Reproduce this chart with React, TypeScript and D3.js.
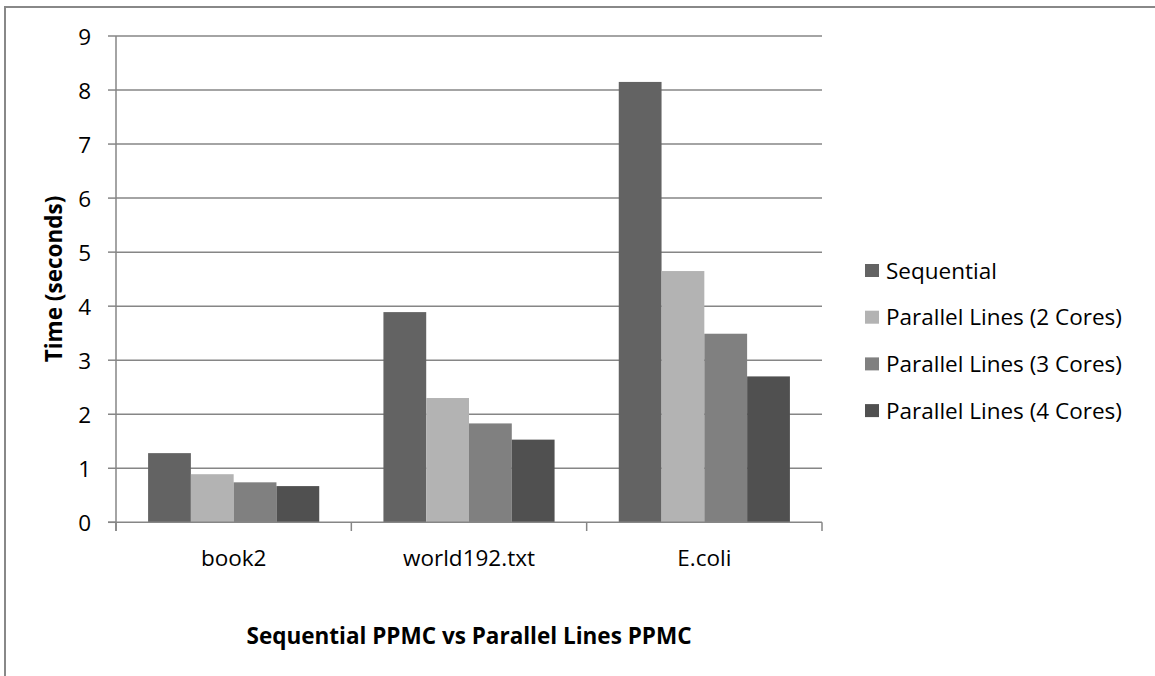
import React from "react";
import * as d3 from "d3";

const categories = ["book2", "world192.txt", "E.coli"];
const seriesNames = ["Sequential", "Parallel Lines (2 Cores)", "Parallel Lines (3 Cores)", "Parallel Lines (4 Cores)"];
const sequential = [1.28, 3.89, 8.15];
const parallel2 = [0.89, 2.3, 4.65];
const parallel3 = [0.74, 1.83, 3.49];
const parallel4 = [0.67, 1.53, 2.7];
const seriesColors = ["#636363", "#b3b3b3", "#808080", "#505050"];
const yTicks = [0, 1, 2, 3, 4, 5, 6, 7, 8, 9];

const W = 1155;
const H = 676;
const FONT = "'Open Sans', sans-serif";
const FS = 22.5;

export default function App() {
  const series = [sequential, parallel2, parallel3, parallel4];
  const x0 = d3.scaleBand<string>().domain(categories).range([116, 822]).paddingInner(0).paddingOuter(0);
  const bw = x0.bandwidth();
  const barW = bw / 5.5;
  const x1 = d3.scaleBand<number>().domain([0, 1, 2, 3]).range([barW * 0.75, bw - barW * 0.75]).padding(0);
  const y = d3.scaleLinear().domain([0, 9]).range([522.3, 36]);
  const gridColor = "#868686";

  return (
    <svg width={W} height={H} style={{ position: "absolute", left: 0, top: 0, background: "#fff" }}>
      <rect x={5} y={7} width={W} height={H} fill="#fff" stroke="#888" strokeWidth={2} />
      {yTicks.map((t) => (
        <g key={t}>
          {t > 0 && <line x1={116} x2={822} y1={y(t)} y2={y(t)} stroke={gridColor} strokeWidth={1.5} />}
          <line x1={108} x2={116} y1={y(t)} y2={y(t)} stroke={gridColor} strokeWidth={1.5} />
          <text x={91} y={y(t)} textAnchor="end" dominantBaseline="central" fontFamily={FONT} fontSize={FS} fill="#000">
            {t}
          </text>
        </g>
      ))}
      {categories.map((c, ci) => (
        <g key={c} transform={`translate(${x0(c)},0)`}>
          {series.map((s, si) => (
            <rect
              key={si}
              x={x1(si)}
              y={y(s[ci])}
              width={x1.bandwidth()}
              height={y(0) - y(s[ci])}
              fill={seriesColors[si]}
            />
          ))}
          <text x={bw / 2} y={557} textAnchor="middle" dominantBaseline="central" fontFamily={FONT} fontSize={FS} fill="#000">
            {c}
          </text>
        </g>
      ))}
      <line x1={116} x2={116} y1={36} y2={531} stroke={gridColor} strokeWidth={1.5} />
      <line x1={108} x2={822} y1={y(0)} y2={y(0)} stroke={gridColor} strokeWidth={1.5} />
      {[...categories.map((c) => x0(c) as number), 822].map((xv, i) => (
        <line key={i} x1={xv} x2={xv} y1={y(0)} y2={531} stroke={gridColor} strokeWidth={1.5} />
      ))}
      <text
        transform={`translate(53,${(36 + 522) / 2}) rotate(-90)`}
        textAnchor="middle"
        dominantBaseline="central"
        fontFamily={FONT}
        fontWeight="bold"
        fontSize={FS}
        fill="#000"
      >
        Time (seconds)
      </text>
      <text x={469} y={635} textAnchor="middle" dominantBaseline="central" fontFamily={FONT} fontWeight="bold" fontSize={FS} fill="#000">
        Sequential PPMC vs Parallel Lines PPMC
      </text>
      {seriesNames.map((n, i) => (
        <g key={n} transform={`translate(865,${270 + i * 46.7})`}>
          <rect x={0} y={-6} width={14} height={13} fill={seriesColors[i]} />
          <text x={21} y={0} dominantBaseline="central" fontFamily={FONT} fontSize={FS} fill="#000">
            {n}
          </text>
        </g>
      ))}
    </svg>
  );
}
